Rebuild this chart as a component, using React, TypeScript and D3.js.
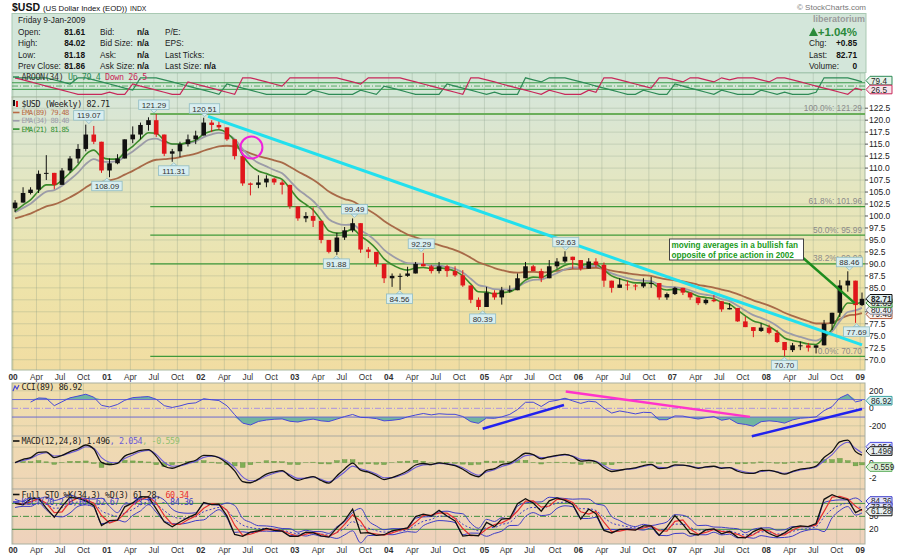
import * as d3 from 'd3';

// Monthly bars, Jan 2000 .. Jan 2009 (last bar = week of 9-Jan-2009)
const high = [
  103.3, 106.0, 106.0, 109.5, 112.7, 109.0, 110.0, 112.5, 115.0, 119.07, 118.8, 115.5, // 2000
  112.0, 112.9, 116.0, 118.7, 119.5, 120.6, 121.29, 115.7, 114.0, 115.5, 117.0, 117.8, // 2001
  120.51, 120.0, 119.8, 118.4, 115.2, 112.4, 107.0, 108.5, 108.5, 108.0, 107.5, 104.7, // 2002
  101.2, 100.8, 101.8, 98.5, 95.0, 96.5, 97.7, 99.49, 95.6, 93.5, 92.3, 89.4, // 2003
  88.0, 88.0, 89.4, 90.4, 92.29, 89.8, 90.4, 89.8, 89.5, 88.7, 85.2, 83.0, // 2004
  85.2, 84.5, 85.2, 85.5, 88.0, 90.4, 89.8, 89.0, 90.8, 91.2, 92.63, 91.5, // 2005
  90.2, 91.2, 91.2, 90.3, 86.0, 87.0, 86.5, 85.8, 87.0, 87.3, 85.2, 84.0, // 2006
  85.2, 85.0, 84.0, 82.8, 82.8, 83.5, 81.8, 81.8, 80.0, 79.0, 76.6, 77.6, // 2007
  77.3, 76.2, 73.5, 73.5, 73.8, 73.5, 73.0, 78.3, 79.8, 86.6, 88.46, 86.0, // 2008
  84.02, // 2009
];
const low = [
  100.8, 103.0, 104.5, 104.8, 107.5, 105.6, 107.0, 109.0, 111.0, 113.5, 115.0, 109.0,
  108.09, 110.8, 112.0, 115.2, 116.0, 117.8, 116.5, 112.5, 111.31, 112.3, 114.5, 115.0,
  117.0, 117.5, 118.0, 115.7, 111.8, 106.3, 104.3, 105.8, 106.0, 106.5, 104.5, 101.5,
  99.0, 98.7, 97.7, 94.3, 92.2, 91.88, 95.0, 96.6, 92.3, 91.2, 89.4, 86.0,
  85.2, 84.56, 87.3, 88.0, 89.5, 88.0, 88.0, 87.3, 87.3, 85.2, 81.8, 80.39,
  82.5, 82.5, 81.5, 84.0, 84.5, 87.3, 88.5, 86.2, 88.0, 89.0, 90.2, 89.0,
  88.6, 89.3, 89.3, 85.2, 84.0, 85.0, 84.5, 84.5, 85.0, 85.0, 82.5, 82.5,
  83.5, 83.5, 82.5, 81.4, 81.5, 82.0, 80.0, 80.5, 77.9, 76.8, 74.7, 75.8,
  75.3, 73.5, 70.7, 71.6, 72.0, 71.7, 71.3, 73.5, 76.2, 78.9, 84.2, 77.69,
  81.18,
];
const close = [
  102.8, 104.8, 105.5, 108.8, 109.0, 106.5, 109.5, 112.0, 114.0, 117.0, 115.5, 109.5,
  111.0, 112.0, 116.0, 117.0, 119.0, 120.0, 117.0, 113.0, 113.5, 115.0, 116.0, 116.8,
  119.5, 119.0, 118.5, 116.0, 112.5, 106.8, 106.5, 107.0, 107.8, 107.0, 106.5, 102.0,
  99.5, 100.0, 99.0, 95.0, 92.5, 95.5, 97.0, 98.5, 93.0, 92.5, 90.0, 87.0,
  87.5, 87.5, 88.0, 90.0, 89.5, 88.5, 89.5, 88.5, 87.6, 85.5, 82.5, 81.0,
  84.0, 83.0, 84.5, 84.5, 87.0, 89.5, 88.5, 87.0, 89.5, 90.5, 91.5, 90.8,
  89.0, 90.5, 89.8, 86.5, 85.0, 85.7, 85.5, 85.3, 86.0, 86.0, 83.0, 83.7,
  85.0, 84.0, 83.0, 81.8, 82.5, 82.2, 80.5, 80.8, 78.0, 76.8, 76.0, 76.7,
  75.6, 73.7, 72.0, 73.0, 73.0, 72.5, 73.0, 77.5, 79.8, 85.5, 86.5, 81.4,
  82.71,
];
const firstOpen = 101.6;
const lastBarDate = '2009-01-09';

// moving average levels at the left edge of the chart
const ema89Seed = 99.5;
const ema34Seed = 100.8;
const ema21Seed = 101.0;

// labelled highs / lows
const pivotDates = ['2000-10-27', '2001-01-05', '2001-07-06', '2001-09-21', '2002-01-18', '2003-06-13', '2003-08-22',
  '2004-02-13', '2004-05-07', '2004-12-31', '2005-11-18', '2008-03-14', '2008-11-21', '2008-12-19'];
const pivotValues = [119.07, 108.09, 121.29, 111.31, 120.51, 91.88, 99.49, 84.56, 92.29, 80.39, 92.63, 70.70, 88.46, 77.69];
const pivotKinds = ['H', 'L', 'H', 'L', 'H', 'L', 'H', 'L', 'H', 'L', 'H', 'L', 'H', 'L'];

// fibonacci retracement
const fibNames = ['100.0%', '61.8%', '50.0%', '38.2%', '0.0%'];
const fibLevels = [121.29, 101.96, 95.99, 90.02, 70.70];
const fibStart = '2001-06-22';

// hand-drawn annotations
const trendDates = ['2002-02-01', '2009-01-09'];
const trendValues = [120.8, 73.1];
const circleDate = '2002-07-19';
const circleValue = 114.3;
const noteDate = '2008-12-12';
const noteValue = 81.8;
const cciPinkDates = ['2005-11-18', '2007-11-02'];
const cciPinkValues = [193, -98];
const cciBlueDates1 = ['2004-12-31', '2005-11-11'];
const cciBlueValues1 = [-233, 38];
const cciBlueDates2 = ['2007-11-09', '2009-01-09'];
const cciBlueValues2 = [-319, -8];

// last values shown in the right-hand tags
const priceTags = [79.48, 80.40, 81.85, 82.71];
const priceTicks = d3.range(70, 122.51, 2.5);
const quoteLabels = ['Open:', 'High:', 'Low:', 'Prev Close:'];
const quoteValues = ['81.61', '84.02', '81.18', '81.86'];
const bidLabels = ['Bid:', 'Bid Size:', 'Ask:', 'Ask Size:'];
const statLabels = ['P/E:', 'EPS:', 'Last Ticks:', 'Last Size:'];

const SANS = '"Liberation Sans", Arial, sans-serif';
const MONO = '"DejaVu Sans Mono", monospace';
const L = 12;
const R = 865;

const alpha = (weeks: number) => 1 - Math.pow(1 - 2 / (weeks + 1), 52 / 12);
const emaOf = (src: number[], a: number, seed: number) => {
  const out: number[] = [];
  src.forEach((v, i) => out.push(i === 0 ? seed : out[i - 1] + a * (v - out[i - 1])));
  return out;
};

function Tag({ y, text, stroke, fill, bold = false }: { y: number; text: string; stroke: string; fill: string; bold?: boolean }) {
  const x0 = R + 1;
  const h = 8.6;
  const d = `M${x0},${y} L${x0 + 4},${y - h / 2} L${x0 + 26},${y - h / 2} L${x0 + 26},${y + h / 2} L${x0 + 4},${y + h / 2} Z`;
  return (
    <g>
      <path d={d} fill={fill} stroke={stroke} strokeWidth={1} />
      <text x={x0 + 5} y={y + 3} fontSize={8.2} fontWeight={bold ? 'bold' : 'normal'} fill="#222">{text}</text>
    </g>
  );
}

function Pivot({ cx, cy, text, above }: { cx: number; cy: number; text: string; above: boolean }) {
  const w = text.length * 4.4 + 4;
  const h = 9.5;
  const by = above ? cy - 14 : cy + 4;
  const tip = above ? cy - 1 : cy + 1;
  const base = above ? by + h : by;
  return (
    <g>
      <path d={`M${cx - 3.5},${base} L${cx},${tip} L${cx + 3.5},${base} Z`} fill="#d6ecee" stroke="#8fbcc4" strokeWidth={0.8} />
      <rect x={cx - w / 2} y={by} width={w} height={h} fill="#d8eef0" stroke="#8fbcc4" strokeWidth={0.8} />
      <text x={cx} y={by + 7.8} textAnchor="middle" fontSize={8} fill="#333">{text}</text>
    </g>
  );
}

export default function App() {
  const parse = d3.timeParse('%Y-%m-%d');
  const endDate = parse(lastBarDate)!;
  const months = d3.timeMonth.range(new Date(2000, 0, 1), new Date(2009, 1, 1));
  const barDates = months.map((m, i) => (i === months.length - 1 ? endDate : new Date(m.getFullYear(), m.getMonth(), 15)));
  const open = close.map((c, i) => (i ? close[i - 1] : firstOpen));

  const x = d3.scaleTime().domain([new Date(2000, 0, 7), endDate]).range([13, 862]);
  const yP = d3.scaleLinear().domain([70, 122.5]).range([359.7, 108.2]);
  const yA = d3.scaleLinear().domain([0, 100]).range([94.3, 77.8]);
  const yC = d3.scaleLinear().domain([-200, 200]).range([425.8, 390.8]);
  const yM = d3.scaleLinear().domain([-2, 2]).range([478.3, 447.1]);
  const yS = d3.scaleLinear().domain([20, 80]).range([529.3, 503.4]);

  // quarter grid
  const quarters: { d: Date; label: string; year: boolean }[] = [];
  for (let yr = 2000; yr <= 2009; yr++) {
    [0, 3, 6, 9].forEach((m, k) => {
      const d = d3.timeFriday.ceil(new Date(yr, m, 1));
      if (d <= endDate) quarters.push({ d, label: k === 0 ? String(yr).slice(2) : ['', 'Apr', 'Jul', 'Oct'][k], year: k === 0 });
    });
  }

  // indicators from the monthly bars
  const e89 = emaOf(close, alpha(89), ema89Seed);
  const e34 = emaOf(close, alpha(34), ema34Seed);
  const e21 = emaOf(close, alpha(21), ema21Seed);

  const aroonN = 8;
  const aroonUp = high.map((_, i) => {
    const s = Math.max(0, i - aroonN);
    let k = s;
    for (let j = s; j <= i; j++) if (high[j] >= high[k]) k = j;
    return (100 * (aroonN - (i - k))) / aroonN;
  });
  const aroonDown = low.map((_, i) => {
    const s = Math.max(0, i - aroonN);
    let k = s;
    for (let j = s; j <= i; j++) if (low[j] <= low[k]) k = j;
    return (100 * (aroonN - (i - k))) / aroonN;
  });

  const tp = close.map((c, i) => (high[i] + low[i] + c) / 3);
  const cci = tp.map((v, i) => {
    const w = tp.slice(Math.max(0, i - 19), i + 1);
    if (w.length < 3) return NaN;
    const m = d3.mean(w)!;
    const md = d3.mean(w, (t) => Math.abs(t - m))!;
    return (v - m) / (0.015 * md);
  });

  const fast = emaOf(close, alpha(12), close[0]);
  const slow = emaOf(close, alpha(24), close[0]);
  const macd = fast.map((f, i) => f - slow[i]);
  const signal = emaOf(macd, alpha(8), macd[0]);
  const hist = macd.map((m, i) => m - signal[i]);

  const pctK = close.map((c, i) => {
    const s = Math.max(0, i - 7);
    const hh = d3.max(high.slice(s, i + 1))!;
    const ll = d3.min(low.slice(s, i + 1))!;
    return (100 * (c - ll)) / (hh - ll);
  });
  const pctD = pctK.map((v, i) => (i ? (v + pctK[i - 1]) / 2 : v));
  const kMid = emaOf(pctK, alpha(20), pctK[0]);
  const kAtr = emaOf(pctK.map((v, i) => (i ? Math.abs(v - pctK[i - 1]) : 10)), alpha(10), 10);
  const kUp = kMid.map((m, i) => m + 2 * kAtr[i] * Math.sqrt(12 / 52));
  const kLo = kMid.map((m, i) => m - 2 * kAtr[i] * Math.sqrt(12 / 52));

  const mk = (yy: (v: number) => number, vals: number[], curve = d3.curveLinear) =>
    d3.line<number>().defined((v) => Number.isFinite(v)).x((_, i) => x(barDates[i])).y((v) => yy(v)).curve(curve)(vals) || '';
  const seg = (dates: string[], vals: number[], yy: (v: number) => number) =>
    ({ x1: x(parse(dates[0])!), y1: yy(vals[0]), x2: x(parse(dates[1])!), y2: yy(vals[1]) });

  const cciUpper = d3.area<number>().defined((v) => Number.isFinite(v)).x((_, i) => x(barDates[i]))
    .y0(yC(100)).y1((v) => yC(Math.max(v, 100)))(cci) || '';
  const cciLower = d3.area<number>().defined((v) => Number.isFinite(v)).x((_, i) => x(barDates[i]))
    .y0(yC(-100)).y1((v) => yC(Math.min(v, -100)))(cci) || '';

  const grid = 'rgba(130,150,130,0.28)';
  const pink = seg(cciPinkDates, cciPinkValues, yC);
  const blue1 = seg(cciBlueDates1, cciBlueValues1, yC);
  const blue2 = seg(cciBlueDates2, cciBlueValues2, yC);
  const trend = seg(trendDates, trendValues, yP);
  // tick labels that sit behind the value tags are not shown (as on the original)
  const tickHidden = (t: number) => priceTags.some((p) => Math.abs(yP(p) - yP(t)) < 4.5);

  const vGrid = (top: number, bottom: number) =>
    quarters.map((q, i) => <line key={i} x1={x(q.d)} x2={x(q.d)} y1={top} y2={bottom} stroke={grid} strokeWidth={1} />);

  const dateRow = (yBase: number) =>
    quarters.map((q, i) => (
      <text key={i} x={x(q.d)} y={yBase} textAnchor="middle" fontSize={8.3} fontWeight={q.year ? 'bold' : 'normal'} fill="#333">{q.label}</text>
    ));

  const tagStyle = [
    { stroke: '#b0583a', fill: '#fbeee8', bold: false },
    { stroke: '#8a8a9a', fill: '#eef0f4', bold: false },
    { stroke: '#2f8f2f', fill: '#e4f3e4', bold: false },
    { stroke: '#111', fill: '#dff0f2', bold: true },
  ];

  return (
    <svg width={900} height={557} style={{ position: 'absolute', left: 0, top: 0, background: '#fff' }} fontFamily={SANS}>
      <defs>
        <linearGradient id="gPrice" x1="0" y1="0" x2="0" y2="1">
          <stop offset="0" stopColor="#d7e6d8" />
          <stop offset="0.35" stopColor="#e5e6bf" />
          <stop offset="0.7" stopColor="#eee3a9" />
          <stop offset="1" stopColor="#f1dda2" />
        </linearGradient>
        <linearGradient id="gLow" x1="0" y1="0" x2="0" y2="1">
          <stop offset="0" stopColor="#f0deac" />
          <stop offset="1" stopColor="#eed2bc" />
        </linearGradient>
        <clipPath id="cPrice"><rect x={L} y={97} width={R - L} height={273} /></clipPath>
        <clipPath id="cLow"><rect x={L} y={383} width={R - L} height={161} /></clipPath>
        <clipPath id="cAroon"><rect x={L} y={73} width={R - L} height={24} /></clipPath>
      </defs>

      {/* title */}
      <text x={12} y={11} fontSize={10.5} fontWeight="bold" fill="#111">$USD
        <tspan fontSize={7.8} fontWeight="normal" dx={3}>(US Dollar Index (EOD))</tspan>
        <tspan fontSize={6.8} fontWeight="normal" dx={3}>INDX</tspan>
      </text>
      <text x={866} y={10} textAnchor="end" fontSize={8} fill="#777">© StockCharts.com</text>

      {/* quote header */}
      <rect x={L} y={13.5} width={854} height={59} fill="#d3e6da" stroke="#a9c9b3" />
      <text x={18} y={22.5} fontSize={8.3} fill="#222">Friday  9-Jan-2009</text>
      {quoteLabels.map((t, i) => (
        <g key={t} fontSize={8.3}>
          <text x={18} y={34.5 + i * 11.5} fill="#222">{t}</text>
          <text x={85} y={34.5 + i * 11.5} textAnchor="end" fontWeight="bold" fill="#111">{quoteValues[i]}</text>
          <text x={100} y={34.5 + i * 11.5} fill="#222">{bidLabels[i]}</text>
          <text x={137} y={34.5 + i * 11.5} fontWeight="bold" fill="#111">n/a</text>
          <text x={165} y={34.5 + i * 11.5} fill="#222">{statLabels[i]}</text>
        </g>
      ))}
      <text x={204} y={69} fontSize={8.3} fontWeight="bold" fill="#111">n/a</text>
      <text x={865} y={21.5} textAnchor="end" fontSize={9} fontWeight="bold" fill="#9a9a9a">liberatorium</text>
      <path d="M809,36 L813.5,27.5 L818,36 Z" fill="#2a8a3a" />
      <text x={857} y={36} textAnchor="end" fontSize={11.5} fontWeight="bold" fill="#2a8a3a">+1.04%</text>
      {['Chg:', 'Last:', 'Volume:'].map((t, i) => (
        <g key={t} fontSize={8.3}>
          <text x={809} y={46 + i * 11.5} fill="#222">{t}</text>
          <text x={857} y={46 + i * 11.5} textAnchor="end" fontWeight="bold" fill="#111">{['+0.85', '82.71', '0'][i]}</text>
        </g>
      ))}

      {/* aroon panel */}
      <rect x={L} y={73} width={R - L} height={24} fill="#d3e7d6" stroke="#a9c9b3" />
      {vGrid(73, 97)}
      <g clipPath="url(#cAroon)">
        <line x1={L} x2={R} y1={yA(70)} y2={yA(70)} stroke="#3a9a4a" strokeWidth={1} />
        <line x1={L} x2={R} y1={yA(30)} y2={yA(30)} stroke="#3a9a4a" strokeWidth={1} />
        <line x1={L} x2={R} y1={yA(50)} y2={yA(50)} stroke="#3a9a4a" strokeWidth={0.8} strokeDasharray="6,2,1,2" />
        <path d={mk(yA, aroonUp)} fill="none" stroke="#2e8b57" strokeWidth={1.2} />
        <path d={mk(yA, aroonDown)} fill="none" stroke="#c8285a" strokeWidth={1.2} />
      </g>
      <line x1={13} x2={19} y1={77} y2={77} stroke="#2e8b57" strokeWidth={1.5} />
      <text x={21.5} y={80} fontFamily={MONO} fontSize={8.4} letterSpacing={-0.4} fill="#333">AROON(34)
        <tspan fill="#2e8b57"> Up 79.4</tspan><tspan fill="#c8285a"> Down 26.5</tspan>
      </text>
      <Tag y={80.6} text="79.4" stroke="#2e8b57" fill="#e4f3e8" />
      <Tag y={89.5} text="26.5" stroke="#c8285a" fill="#f7e4ea" />

      {/* price panel */}
      <rect x={L} y={97} width={R - L} height={273} fill="url(#gPrice)" stroke="#a9b9a0" />
      {vGrid(97, 370)}
      {priceTicks.map((t) => (
        <g key={t}>
          <line x1={L} x2={R} y1={yP(t)} y2={yP(t)} stroke={grid} strokeWidth={1} />
          <line x1={R} x2={R + 3} y1={yP(t)} y2={yP(t)} stroke="#555" />
          {!tickHidden(t) && <text x={869} y={yP(t) + 3} fontSize={8.5} fill="#222">{t.toFixed(1)}</text>}
        </g>
      ))}
      <g clipPath="url(#cPrice)">
        {fibLevels.map((f, i) => (
          <line key={f} x1={x(parse(fibStart)!)} x2={R} y1={yP(f)} y2={yP(f)}
            stroke={i === 0 ? '#6aae5a' : '#3f9a3a'} strokeWidth={i === 0 ? 2 : 1.2} />
        ))}
        <path d={mk(yP, e89, d3.curveMonotoneX)} fill="none" stroke="#a86a48" strokeWidth={1.8} />
        <path d={mk(yP, e34, d3.curveMonotoneX)} fill="none" stroke="#9c9ca8" strokeWidth={1.8} />
        <path d={mk(yP, e21, d3.curveMonotoneX)} fill="none" stroke="#3a8a2a" strokeWidth={1.6} />
        {close.map((c, i) => {
          const o = open[i];
          const cx = x(barDates[i]);
          const col = c >= o ? '#111' : '#e0161b';
          const hi = Math.max(high[i], o, c);
          const lo = Math.min(low[i], o, c);
          const top = yP(Math.max(o, c));
          const bot = yP(Math.min(o, c));
          return (
            <g key={i}>
              <line x1={cx} x2={cx} y1={yP(hi)} y2={yP(lo)} stroke={col} strokeWidth={1} />
              <rect x={cx - 2.3} y={top} width={4.6} height={Math.max(1, bot - top)} fill={col} />
            </g>
          );
        })}
        <line {...trend} stroke="#22e0ee" strokeWidth={3} />
        <circle cx={x(parse(circleDate)!)} cy={yP(circleValue)} r={11} fill="none" stroke="#ee22dd" strokeWidth={2} />
      </g>
      {fibLevels.map((f, i) => (
        <text key={f} x={862} y={yP(f) - 2.5} textAnchor="end" fontSize={8.3} fill="#8a8a8a">{`${fibNames[i]}: ${f.toFixed(2)}`}</text>
      ))}
      {pivotValues.map((v, i) => (
        <Pivot key={i} cx={x(parse(pivotDates[i])!)} cy={yP(v)} text={v.toFixed(2)} above={pivotKinds[i] === 'H'} />
      ))}

      {/* legend */}
      <rect x={13} y={100} width={2} height={6} fill="#111" />
      <rect x={16} y={101} width={2} height={6} fill="#e0161b" />
      <text x={21.5} y={107} fontFamily={MONO} fontSize={8.4} letterSpacing={-0.4} fill="#222">$USD (Weekly) 82.71</text>
      {[['EMA(89) 79.48', '#b86a44'], ['EMA(34) 80.40', '#9c9caa'], ['EMA(21) 81.85', '#2f8f2f']].map(([t, c], i) => (
        <g key={t}>
          <line x1={13} x2={19.5} y1={112.5 + i * 8.3} y2={112.5 + i * 8.3} stroke={c} strokeWidth={1.6} />
          <text x={21.5} y={115 + i * 8.3} fontFamily={MONO} fontSize={7.2} letterSpacing={-0.7} fill={c}>{t}</text>
        </g>
      ))}

      {/* note */}
      <line x1={802} y1={257} x2={x(parse(noteDate)!)} y2={yP(noteValue)} stroke="#1e8c1e" strokeWidth={2.5} />
      <rect x={669.5} y={239} width={134} height={21} fill="#fff" stroke="#444" strokeWidth={1} />
      <text x={671.5} y={248.3} fontSize={8.2} fontWeight="bold" fill="#1a9a1a">moving averages in a bullish fan</text>
      <text x={671.5} y={257.5} fontSize={8.2} fontWeight="bold" fill="#1a9a1a">opposite of price action in 2002</text>

      {priceTags.map((p, i) => (
        <Tag key={p} y={yP(p)} text={p.toFixed(2)} stroke={tagStyle[i].stroke} fill={tagStyle[i].fill} bold={tagStyle[i].bold} />
      ))}

      {/* date row */}
      {dateRow(379.5)}

      {/* lower panels */}
      <rect x={L} y={383} width={R - L} height={161} fill="url(#gLow)" stroke="#a9b0a0" />
      <line x1={L} x2={R} y1={436} y2={436} stroke="#a9a9a0" />
      <line x1={L} x2={R} y1={489} y2={489} stroke="#a9a9a0" />
      {vGrid(383, 544)}

      {/* CCI */}
      {[200, -200].map((t) => (
        <line key={t} x1={L} x2={R} y1={yC(t)} y2={yC(t)} stroke={grid} />
      ))}
      <g clipPath="url(#cLow)">
        <path d={cciUpper} fill="#5aae9e" opacity={0.85} />
        <path d={cciLower} fill="#5aae9e" opacity={0.85} />
        <line x1={L} x2={R} y1={yC(100)} y2={yC(100)} stroke="#6a6ad0" strokeWidth={1} />
        <line x1={L} x2={R} y1={yC(-100)} y2={yC(-100)} stroke="#6a6ad0" strokeWidth={1} />
        <line x1={L} x2={R} y1={yC(0)} y2={yC(0)} stroke="#a890e0" strokeWidth={1} strokeDasharray="6,2,1,2" />
        <path d={mk(yC, cci)} fill="none" stroke="#4848d8" strokeWidth={1} />
        <line {...pink} stroke="#ff33cc" strokeWidth={2.5} />
        <line {...blue1} stroke="#2222ee" strokeWidth={2.5} />
        <line {...blue2} stroke="#2222ee" strokeWidth={2.5} />
      </g>
      <path d="M13,391 L15,386 L17,389 L19,385" fill="none" stroke="#4848d8" strokeWidth={1.2} />
      <text x={21.5} y={390} fontFamily={MONO} fontSize={8.4} letterSpacing={-0.4} fill="#222">CCI(89) 86.92</text>
      {[200, 0, -200].map((t) => (
        <text key={t} x={869} y={yC(t) + 3} fontSize={8.5} fill="#222">{t}</text>
      ))}
      <Tag y={yC(86.92)} text="86.92" stroke="#3aa0a0" fill="#d8f2f2" />

      {/* MACD */}
      {[2, 0, -2].map((t) => (
        <line key={t} x1={L} x2={R} y1={yM(t)} y2={yM(t)} stroke={grid} />
      ))}
      <g clipPath="url(#cLow)">
        {hist.map((h, i) => (
          <rect key={i} x={x(barDates[i]) - 2.4} width={4.8} y={Math.min(yM(h), yM(0))} height={Math.abs(yM(h) - yM(0))}
            fill="#7fae55" stroke="#5f8f3a" strokeWidth={0.4} />
        ))}
        <path d={mk(yM, signal, d3.curveMonotoneX)} fill="none" stroke="#6a5ad8" strokeWidth={1.1} />
        <path d={mk(yM, macd, d3.curveMonotoneX)} fill="none" stroke="#111" strokeWidth={1.3} />
      </g>
      <line x1={13} x2={19.5} y1={441} y2={441} stroke="#111" strokeWidth={1.6} />
      <text x={21.5} y={444} fontFamily={MONO} fontSize={8.4} letterSpacing={-0.4} fill="#222">MACD(12,24,8) 1.496
        <tspan fill="#6a5ad8">, 2.054</tspan><tspan fill="#8fc070">, -0.559</tspan>
      </text>
      {[0, -2].map((t) => (
        <text key={t} x={869} y={yM(t) + 3} fontSize={8.5} fill="#222">{t}</text>
      ))}
      <Tag y={yM(2.054)} text="2.054" stroke="#4a4ae0" fill="#e6e6fa" />
      <Tag y={yM(1.496)} text="1.496" stroke="#111" fill="#e8f0f0" />
      <Tag y={yM(-0.559)} text="-0.559" stroke="#5fae5f" fill="#dcf2d8" />

      {/* STO */}
      <g clipPath="url(#cLow)">
        <line x1={L} x2={R} y1={yS(80)} y2={yS(80)} stroke="#3f8f3f" strokeWidth={1} />
        <line x1={L} x2={R} y1={yS(20)} y2={yS(20)} stroke="#3f8f3f" strokeWidth={1} />
        <line x1={L} x2={R} y1={yS(50)} y2={yS(50)} stroke="#3f8f3f" strokeWidth={1} strokeDasharray="6,2,1,2" />
        <path d={mk(yS, kUp, d3.curveMonotoneX)} fill="none" stroke="#3d3dc8" strokeWidth={1} />
        <path d={mk(yS, kMid, d3.curveMonotoneX)} fill="none" stroke="#3d3dc8" strokeWidth={1} strokeDasharray="2,2" />
        <path d={mk(yS, kLo, d3.curveMonotoneX)} fill="none" stroke="#3d3dc8" strokeWidth={1} />
        <path d={mk(yS, pctD)} fill="none" stroke="#e83030" strokeWidth={1.2} />
        <path d={mk(yS, pctK)} fill="none" stroke="#111" strokeWidth={1.3} />
      </g>
      <line x1={13} x2={19.5} y1={494.5} y2={494.5} stroke="#111" strokeWidth={1.6} />
      <text x={21.5} y={497.5} fontFamily={MONO} fontSize={8.4} letterSpacing={-0.4} fill="#222">Full STO %K(34,3) %D(3) 61.28,
        <tspan fill="#e83030"> 60.34</tspan>
      </text>
      <line x1={13} x2={19.5} y1={502} y2={502} stroke="#3d3dc8" strokeWidth={1.6} />
      <text x={21.5} y={505} fontFamily={MONO} fontSize={8.4} letterSpacing={-0.4} fill="#3d3dc8">KELT(20,2.0,10) 62.67 - 73.52 - 84.36</text>
      {[50, 20].map((t) => (
        <text key={t} x={869} y={yS(t) + 3} fontSize={8.5} fill="#222">{t}</text>
      ))}
      <Tag y={yS(84.36) - 0.5} text="84.36" stroke="#3d3dc8" fill="#e6e6fa" />
      <Tag y={yS(73.52) + 1} text="73.52" stroke="#3d3dc8" fill="#e6e6fa" />
      <Tag y={yS(61.28)} text="61.28" stroke="#111" fill="#e8f0f0" />

      {dateRow(553)}
    </svg>
  );
}
